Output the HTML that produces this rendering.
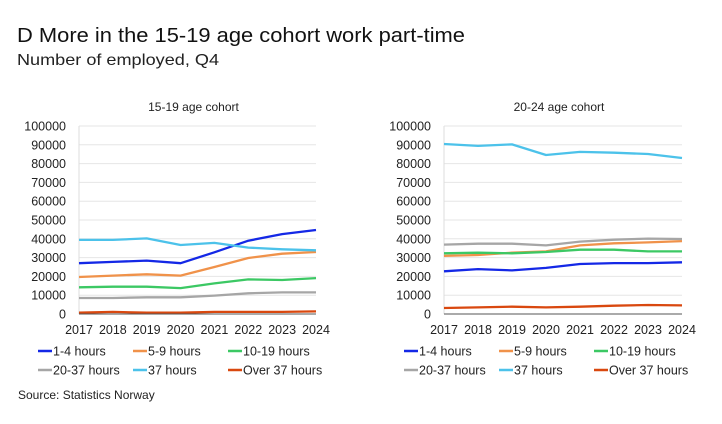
<!DOCTYPE html>
<html><head><meta charset="utf-8">
<style>
body{margin:0;background:#fff;font-family:"Liberation Sans",sans-serif;}
#c{position:relative;width:722px;height:424px;overflow:hidden}
</style></head><body><div id="c">
<svg id="s" width="722" height="424" xmlns="http://www.w3.org/2000/svg" font-family="Liberation Sans, sans-serif">
<text x="17" y="42" font-size="20.5" fill="#111" textLength="448" lengthAdjust="spacingAndGlyphs">D More in the 15-19 age cohort work part-time</text>
<text x="17" y="65" font-size="16" fill="#222" textLength="202" lengthAdjust="spacingAndGlyphs">Number of employed, Q4</text>
<text x="18" y="399" font-size="12" fill="#222">Source: Statistics Norway</text>
</svg>
<script>
var s=document.getElementById('s'),NS='http://www.w3.org/2000/svg';
function el(t,a,txt){var e=document.createElementNS(NS,t);for(var k in a)e.setAttribute(k,a[k]);if(txt!=null)e.textContent=txt;s.appendChild(e);return e;}
var cols=['#1428e6','#f0924a','#3cc864','#a6a6a6','#4cc2ea','#d9480f'];
var names=['1-4 hours','5-9 hours','10-19 hours','20-37 hours','37 hours','Over 37 hours'];
function chart(x0,x1,title,data,lx){
  var y0=314,k=1.88;
  el('text',{x:(x0+x1)/2-4,y:111,'font-size':12,'text-anchor':'middle',fill:'#222'},title);
  for(var i=0;i<=10;i++){var y=y0-i*10*k;
    if(i>0)el('line',{x1:x0,x2:x1,y1:y,y2:y,stroke:'#e6e6e6','stroke-width':1});
    el('text',{x:x0-13,y:y+4.5,'font-size':12.5,'text-anchor':'end',fill:'#222'},String(i*10000));}
  var st=(x1-x0)/7;
  for(var j=0;j<8;j++)el('text',{x:x0+j*st,y:334,'font-size':12.5,'text-anchor':'middle',fill:'#222'},String(2017+j));
  el('line',{x1:x0,x2:x0,y1:126,y2:y0,stroke:'#ddd'});
  data.forEach(function(d,n){var p=d.map(function(v,j){return (x0+j*st).toFixed(1)+','+(y0-v*k).toFixed(1)}).join(' ');
    el('polyline',{points:p,fill:'none',stroke:cols[n],'stroke-width':2.3,'stroke-linejoin':'round'});});
  el('line',{x1:x0,x2:x1,y1:y0,y2:y0,stroke:'#555','stroke-width':1});
  var cx=[lx,lx+95,lx+190];
  names.forEach(function(nm,n){var x=cx[n%3],y=n<3?351:370;
    el('line',{x1:x,x2:x+14,y1:y,y2:y,stroke:cols[n],'stroke-width':2.5});
    el('text',{x:x+15,y:y+4.5,'font-size':12.5,fill:'#222'},nm);});
}
chart(79,316,'15-19 age cohort',[
[27,27.7,28.4,27,32.8,39,42.5,44.7],
[19.7,20.4,21.1,20.4,25,29.8,32.1,33],
[14.2,14.5,14.5,13.8,16.3,18.4,18.1,19.1],
[8.5,8.5,8.9,8.9,9.8,11,11.5,11.5],
[39.4,39.4,40.2,36.7,37.8,35.3,34.4,33.9],
[0.7,1.1,0.7,0.7,1.1,1.1,1.1,1.4]],38);
chart(444,682,'20-24 age cohort',[
[22.7,23.9,23.2,24.5,26.6,27.1,27.1,27.5],
[30.9,31.4,32.6,33.3,36.5,37.6,38.1,38.8],
[32.3,32.6,32.3,33,34.2,34.2,33.3,33.3],
[36.9,37.4,37.4,36.5,38.5,39.5,40.1,39.9],
[90.4,89.4,90.2,84.6,86.2,85.8,85.1,83],
[3.2,3.5,3.9,3.5,3.9,4.4,4.8,4.6]],404);
</script>
</div></body></html>
